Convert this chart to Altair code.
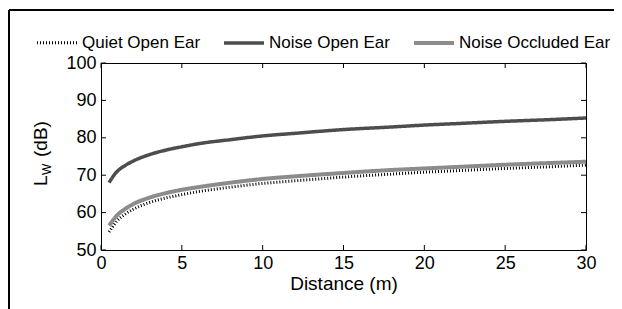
import altair as alt
import pandas as pd

distance = [0.5, 0.75, 1, 1.5, 2, 3, 4, 5, 6, 8, 10, 12, 15, 18, 20, 22, 25, 28, 30]
quiet_open = [54.8, 56.4, 57.8, 59.6, 60.9, 62.7, 63.9, 64.8, 65.6, 66.8, 67.8, 68.5, 69.5, 70.3, 70.8, 71.2, 71.8, 72.3, 72.7]
noise_open = [68.0, 69.7, 71.0, 72.6, 73.8, 75.5, 76.7, 77.6, 78.4, 79.5, 80.5, 81.2, 82.2, 82.9, 83.4, 83.8, 84.4, 84.9, 85.3]
noise_occl = [56.5, 58.0, 59.3, 61.0, 62.3, 64.0, 65.2, 66.1, 66.8, 68.0, 69.0, 69.7, 70.6, 71.4, 71.8, 72.2, 72.8, 73.3, 73.6]
series_names = ["Quiet Open Ear", "Noise Open Ear", "Noise Occluded Ear"]
x_ticks = [0, 5, 10, 15, 20, 25, 30]
y_ticks = [50, 60, 70, 80, 90, 100]

FONT = "Liberation Sans"
FS = 18
W, H = 485, 187

rows = []
for name, vals in zip(series_names, [quiet_open, noise_open, noise_occl]):
    for d, v in zip(distance, vals):
        rows.append({"Distance": d, "Lw": v, "Series": name})
df = pd.DataFrame(rows)

xscale = alt.Scale(domain=[0, 30], nice=False)
yscale = alt.Scale(domain=[50, 100], nice=False)
xaxis = alt.Axis(values=x_ticks, title="Distance (m)", tickSize=0, domain=False,
                 grid=False, labelPadding=4, titlePadding=2, labelFlush=False,
                 labelOverlap=False, titleFontSize=19)
yaxis = alt.Axis(values=y_ticks, title=None, tickSize=0, domain=False,
                 grid=False, labelPadding=5, labelFlush=False, labelOverlap=False)

lines = alt.Chart(df).mark_line(interpolate="monotone", strokeCap="butt").encode(
    x=alt.X("Distance:Q", scale=xscale, axis=xaxis, title="Distance (m)"),
    y=alt.Y("Lw:Q", scale=yscale, axis=yaxis, title=None),
    color=alt.Color("Series:N", scale=alt.Scale(domain=series_names,
                                                range=["#000000", "#4d4d4d", "#8c8c8c"]),
                    legend=alt.Legend(title=None, orient="none", legendX=-66, legendY=-42,
                                      direction="horizontal", columns=3, columnPadding=16,
                                      symbolType="stroke", symbolSize=1600, labelOffset=3,
                                      labelFontSize=17, labelFont=FONT, labelColor="black",
                                      labelLimit=400, padding=0, offset=0)),
    strokeDash=alt.StrokeDash("Series:N", scale=alt.Scale(domain=series_names,
                                                          range=[[1, 2], [1, 0], [1, 0]]),
                              legend=None),
    strokeWidth=alt.StrokeWidth("Series:N", scale=alt.Scale(domain=series_names, range=[3, 4, 4]),
                                legend=None),
    order=alt.Order("Distance:Q"),
)

tx = pd.DataFrame({"t": x_ticks})
ty = pd.DataFrame({"t": y_ticks})
bottom_ticks = alt.Chart(tx).mark_rule(color="black", strokeWidth=1).encode(
    x=alt.X("t:Q", scale=xscale, axis=xaxis, title="Distance (m)"), y=alt.value(H), y2=alt.value(H - 5))
top_ticks = alt.Chart(tx).mark_rule(color="black", strokeWidth=1).encode(
    x=alt.X("t:Q", scale=xscale, axis=xaxis, title="Distance (m)"), y=alt.value(0), y2=alt.value(5))
left_ticks = alt.Chart(ty).mark_rule(color="black", strokeWidth=1).encode(
    y=alt.Y("t:Q", scale=yscale, axis=yaxis, title=None), x=alt.value(0), x2=alt.value(5))
right_ticks = alt.Chart(ty).mark_rule(color="black", strokeWidth=1).encode(
    y=alt.Y("t:Q", scale=yscale, axis=yaxis, title=None), x=alt.value(W), x2=alt.value(W - 5))

# outer figure frame (left and top edges)
frame_left = alt.Chart(tx).mark_rule(color="black", strokeWidth=1, clip=False).encode(
    x=alt.value(-92), y=alt.value(-53), y2=alt.value(246))
frame_top = alt.Chart(tx).mark_rule(color="black", strokeWidth=1, clip=False).encode(
    x=alt.value(-92), x2=alt.value(540), y=alt.value(-53))

# y-axis title "L_W (dB)" with subscript
ylab = pd.DataFrame({"s": ["L"]})
t_L = alt.Chart(ylab).mark_text(text="L", angle=270, align="left", baseline="alphabetic",
                               font=FONT, fontSize=19, color="black").encode(
    x=alt.value(-54), y=alt.value(123))
t_W = alt.Chart(ylab).mark_text(text="W", angle=270, align="left", baseline="alphabetic",
                               font=FONT, fontSize=12, color="black").encode(
    x=alt.value(-50), y=alt.value(112))
t_dB = alt.Chart(ylab).mark_text(text="(dB)", angle=270, align="left", baseline="alphabetic",
                                font=FONT, fontSize=19, color="black").encode(
    x=alt.value(-54), y=alt.value(94))

chart = alt.layer(
    lines, bottom_ticks, top_ticks, left_ticks, right_ticks,
    frame_left, frame_top, t_L, t_W, t_dB
).properties(
    width=W, height=H,
    autosize=alt.AutoSizeParams(type="none"),
    padding={"left": 93, "top": 55, "right": 28, "bottom": 59},
    background="white",
).configure_view(
    stroke="black", strokeWidth=1
).configure_axis(
    labelFont=FONT, labelFontSize=FS, labelColor="black",
    titleFont=FONT, titleFontSize=FS, titleColor="black", titleFontWeight="normal",
)

chart.save("out.html", embed_options={"renderer": "svg", "actions": False})
